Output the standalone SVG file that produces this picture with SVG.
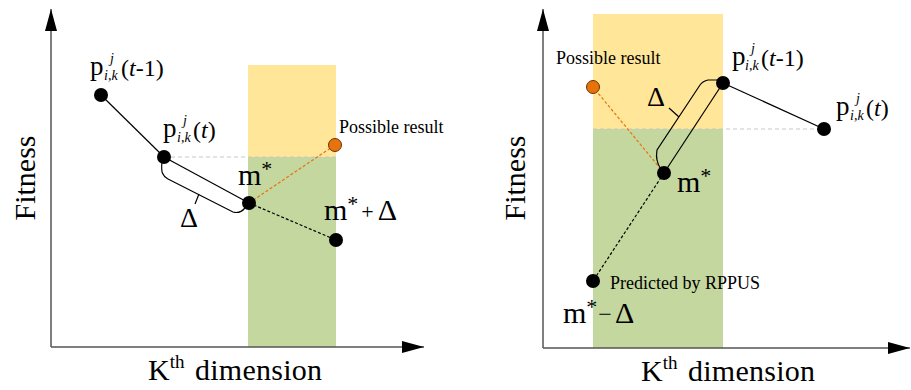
<svg xmlns="http://www.w3.org/2000/svg" width="911" height="390" viewBox="0 0 911 390" font-family="'Liberation Serif', 'Times New Roman', serif">
<defs>
<style>
text{font-family:'Liberation Serif','Times New Roman',serif;fill:#000}
.ax{stroke:#555;stroke-width:1.5;fill:none}
.solid{stroke:#000;stroke-width:1.2;fill:none}
.bdash{stroke:#000;stroke-width:1.2;stroke-dasharray:3 2;fill:none}
.odash{stroke:#E8720C;stroke-width:1.2;stroke-dasharray:3 2;fill:none}
.gdash{stroke:#c8c8c8;stroke-width:1.2;stroke-dasharray:4 3;fill:none}
.dot{fill:#000}
.odot{fill:#E8720C;stroke:#6b3300;stroke-width:1}
.yel{fill:#FFE699}
.grn{fill:#C4D79F}
.big{font-size:30px}
.lab{font-size:18px}
.p{font-size:27px}
.sub{font-size:14px;font-style:italic}
.par{font-size:24px}
.delta{font-size:28px}
</style>
<marker id="arr" viewBox="0 0 22 12" refX="22" refY="6" markerWidth="22" markerHeight="12" markerUnits="userSpaceOnUse" orient="auto">
<path d="M0,0 L22,6 L0,12 Z" fill="#000"/>
</marker>
</defs>

<!-- Left panel -->
<g id="left-regions">
<rect class="yel" x="248" y="65" width="88" height="92"/>
<rect class="grn" x="248" y="157" width="88" height="190"/>
</g>
<g id="left-axes">
<path class="ax" d="M51,347 V9" marker-end="url(#arr)"/>
<path class="ax" d="M51,347 H424" marker-end="url(#arr)"/>
<text class="big" transform="translate(35,178) rotate(-90)" text-anchor="middle">Fitness</text>
<text class="big" x="148" y="380">K<tspan font-size="19" dy="-12">th</tspan></text>
<text class="big" x="195" y="380" textLength="127">dimension</text>
</g>
<g id="left-connectors">
<line class="gdash" x1="164" y1="157" x2="336" y2="157"/>
<line class="solid" x1="101" y1="95" x2="164" y2="157"/>
<line class="solid" x1="164" y1="157" x2="249" y2="203"/>
<line class="bdash" x1="249" y1="203" x2="336" y2="240"/>
<line class="odash" x1="249" y1="203" x2="335" y2="145"/>
<path class="solid" d="M162,161 Q161,172 163,174 Q164,177 168,179 L233,212 Q240,214 245,208"/>
<line class="solid" x1="199" y1="194" x2="195" y2="204"/>
<text class="delta" x="180" y="227">Δ</text>
</g>
<g id="left-p-t-1">
<circle class="dot" cx="101" cy="95" r="7"/>
<text class="p" x="90" y="75">p</text>
<text class="sub" x="104" y="80">i,k</text>
<text class="sub" x="110" y="63">j</text>
<text class="par" x="121" y="76">(<tspan font-style="italic">t</tspan>-1)</text>
</g>
<g id="left-p-t">
<circle class="dot" cx="164" cy="157" r="7"/>
<text class="p" x="163" y="137">p</text>
<text class="sub" x="177" y="142">i,k</text>
<text class="sub" x="183" y="125">j</text>
<text class="par" x="193" y="138">(<tspan font-style="italic">t</tspan>)</text>
</g>
<g id="left-mstar">
<circle class="dot" cx="249" cy="203" r="7"/>
<text class="big" x="238" y="185">m<tspan font-size="22" dy="-9">*</tspan></text>
</g>
<g id="left-possible">
<circle class="odot" cx="335" cy="145" r="6.5"/>
<text class="lab" x="339" y="133">Possible result</text>
</g>
<g id="left-mplus">
<circle class="dot" cx="336" cy="240" r="7"/>
<text class="big" x="324" y="220">m<tspan font-size="22" dy="-9">*</tspan><tspan font-size="22" dy="8" dx="3">+</tspan><tspan dy="1" dx="4">Δ</tspan></text>
</g>

<!-- Right panel -->
<g id="right-regions">
<rect class="yel" x="593" y="14" width="130" height="115"/>
<rect class="grn" x="593" y="129" width="130" height="219"/>
</g>
<g id="right-axes">
<path class="ax" d="M543,348 V9" marker-end="url(#arr)"/>
<path class="ax" d="M543,348 H910" marker-end="url(#arr)"/>
<text class="big" transform="translate(525,178) rotate(-90)" text-anchor="middle">Fitness</text>
<text class="big" x="641" y="381">K<tspan font-size="19" dy="-12">th</tspan></text>
<text class="big" x="688" y="381" textLength="127">dimension</text>
</g>
<g id="right-connectors">
<line class="gdash" x1="593" y1="129" x2="824" y2="129"/>
<line class="solid" x1="723" y1="83" x2="824" y2="129"/>
<line class="solid" x1="723" y1="83" x2="664" y2="173"/>
<line class="bdash" x1="664" y1="173" x2="593" y2="281"/>
<line class="odash" x1="664" y1="173" x2="593" y2="87"/>
<path class="solid" d="M719,80 L708,80 Q703,81 700,85 L657,150 Q656,156 657,160 Q658,165 661,169"/>
<line class="solid" x1="669" y1="108" x2="679" y2="117"/>
<text class="delta" x="647" y="106">Δ</text>
</g>
<g id="right-possible">
<circle class="odot" cx="593" cy="87" r="6.5"/>
<text class="lab" x="556" y="64">Possible result</text>
</g>
<g id="right-p-t-1">
<circle class="dot" cx="723" cy="83" r="7"/>
<text class="p" x="732" y="65">p</text>
<text class="sub" x="745" y="70">i,k</text>
<text class="sub" x="751" y="53">j</text>
<text class="par" x="761" y="66">(<tspan font-style="italic">t</tspan>-1)</text>
</g>
<g id="right-p-t">
<circle class="dot" cx="824" cy="129" r="7"/>
<text class="p" x="836" y="115">p</text>
<text class="sub" x="850" y="120">i,k</text>
<text class="sub" x="856" y="103">j</text>
<text class="par" x="866" y="116">(<tspan font-style="italic">t</tspan>)</text>
</g>
<g id="right-mstar">
<circle class="dot" cx="664" cy="173" r="7"/>
<text class="big" x="677" y="192">m<tspan font-size="22" dy="-9">*</tspan></text>
</g>
<g id="right-predicted">
<circle class="dot" cx="593" cy="281" r="7"/>
<text class="lab" x="610" y="289">Predicted by RPPUS</text>
</g>
<g id="right-mminus">
<text class="big" x="563" y="323">m<tspan font-size="22" dy="-9">*</tspan><tspan font-size="24" dy="8" dx="1">−</tspan><tspan dy="1" dx="3">Δ</tspan></text>
</g>
</svg>
